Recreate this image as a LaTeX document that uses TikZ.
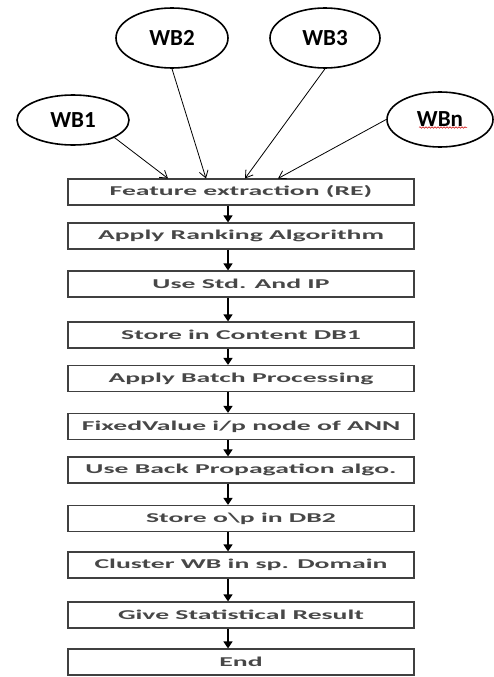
\documentclass[tikz,border=0pt]{standalone}
\usepackage{fontspec}
\setmainfont{Carlito}
\usetikzlibrary{arrows.meta,shapes.geometric,decorations.pathmorphing}
\newcommand{\wtxt}[1]{\scalebox{2.05}[1]{#1}}

\begin{document}
\begin{tikzpicture}[x=1pt,y=-1pt,
  wb/.style={draw,ellipse,line width=1.6pt,inner sep=0pt,font=\bfseries\fontsize{23}{23}\selectfont},
  stage/.style={draw=black!75,line width=1.2pt,minimum width=346pt,minimum height=26pt,inner sep=0pt,font=\bfseries\fontsize{13.5}{14}\selectfont,text=black!72},
  feed/.style={-{Straight Barb[length=7pt,width=9pt]},line width=0.8pt},
  flow/.style={-{Triangle[length=7pt,width=9pt]},line width=1.4pt}]
  \useasboundingbox (0,0) rectangle (494,677);

  % sources
  \node[wb,minimum width=112pt,minimum height=50pt] (wb1) at (73,120) {WB1};
  \node[wb,minimum width=112pt,minimum height=60pt] (wb2) at (172,38) {WB2};
  \node[wb,minimum width=110pt,minimum height=60pt] (wb3) at (325,38) {WB3};
  \node[wb,minimum width=106pt,minimum height=55pt] (wbn) at (440,119.5) {WBn};
  \draw[red!80!black,line width=0.5pt,decorate,decoration={snake,amplitude=0.8pt,segment length=3pt}]
    ([shift={(-21pt,-8pt)}]wbn.center) -- ([shift={(27pt,-8pt)}]wbn.center);

  % process chain
  \node[stage] (s1) at (241,192) {\wtxt{Feature extraction (RE)}};
  \node[stage] (s2) at (241,236) {\wtxt{Apply Ranking Algorithm}};
  \node[stage] (s3) at (241,284) {\wtxt{Use Std. And IP}};
  \node[stage] (s4) at (241,335) {\wtxt{Store in Content DB1}};
  \node[stage] (s5) at (241,378.5) {\wtxt{Apply Batch Processing}};
  \node[stage] (s6) at (241,426.5) {\wtxt{FixedValue i/p node of ANN}};
  \node[stage] (s7) at (241,470) {\wtxt{Use Back Propagation algo.}};
  \node[stage] (s8) at (241,518.5) {\wtxt{Store o\textbackslash p in DB2}};
  \node[stage] (s9) at (241,565) {\wtxt{Cluster WB in sp. Domain}};
  \node[stage] (s10) at (241,615) {\wtxt{Give Statistical Result}};
  \node[stage] (s11) at (241,662) {\wtxt{End}};

  % inputs into first stage
  \coordinate (in1) at (168,178.5);
  \coordinate (in2) at (206,178.5);
  \coordinate (in3) at (245,178.5);
  \coordinate (in4) at (278,178.5);
  \draw[feed] (wb1.-23) -- (in1);
  \draw[feed] (wb2.south) -- (in2);
  \draw[feed] (wb3.south) -- (in3);
  \draw[feed] (wbn.west) -- (in4);

  \draw[flow] ([xshift=-13pt]s1.south) -- ([xshift=-13pt]s2.north);
  \draw[flow] ([xshift=-13pt]s2.south) -- ([xshift=-13pt]s3.north);
  \draw[flow] ([xshift=-13pt]s3.south) -- ([xshift=-13pt]s4.north);
  \draw[flow] ([xshift=-13pt]s4.south) -- ([xshift=-13pt]s5.north);
  \draw[flow] ([xshift=-13pt]s5.south) -- ([xshift=-13pt]s6.north);
  \draw[flow] ([xshift=-13pt]s6.south) -- ([xshift=-13pt]s7.north);
  \draw[flow] ([xshift=-13pt]s7.south) -- ([xshift=-13pt]s8.north);
  \draw[flow] ([xshift=-13pt]s8.south) -- ([xshift=-13pt]s9.north);
  \draw[flow] ([xshift=-13pt]s9.south) -- ([xshift=-13pt]s10.north);
  \draw[flow] ([xshift=-13pt]s10.south) -- ([xshift=-13pt]s11.north);
\end{tikzpicture}
\end{document}
